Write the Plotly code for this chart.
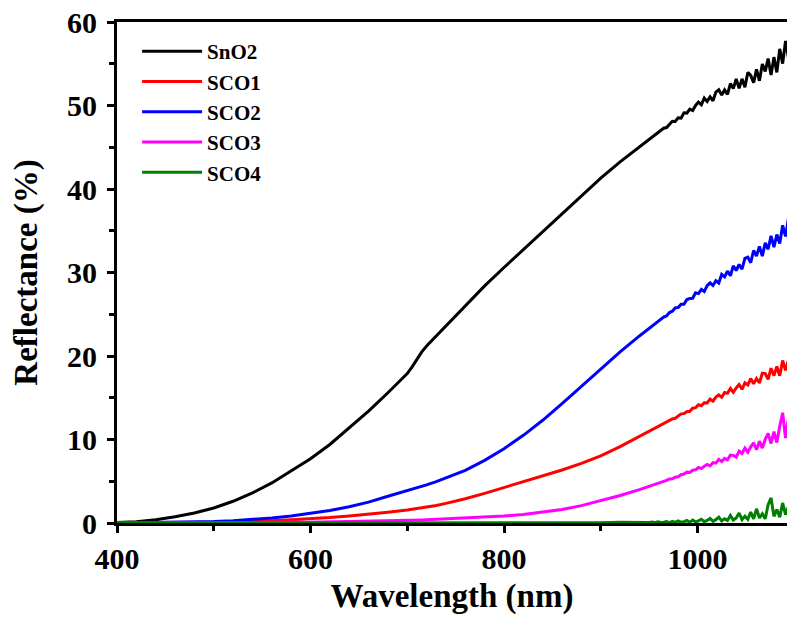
import plotly.graph_objects as go

wavelength = [400, 420, 440, 460, 480, 500, 520, 540, 560, 580, 600, 620, 640, 660, 680,
              700, 705, 710, 715, 720, 730, 740, 760, 780, 800, 820, 840, 860, 880, 900, 920, 940,
              950, 953, 956, 959, 962, 965, 968, 971, 974, 977, 980, 983, 986, 989, 992, 995,
              998, 1001, 1004, 1007, 1010, 1013, 1016, 1019, 1022, 1025, 1028, 1031, 1034,
              1037, 1040, 1043, 1046, 1049, 1052, 1055, 1058, 1061, 1064, 1067, 1070, 1073,
              1076, 1079, 1082, 1085, 1088, 1091, 1094]

sno2 = [0.05, 0.15, 0.4, 0.75, 1.2, 1.8, 2.6, 3.6, 4.8, 6.2, 7.7, 9.4, 11.4, 13.4, 15.6,
        17.9, 18.7, 19.6, 20.5, 21.2, 22.4, 23.7, 26.1, 28.4, 30.6, 32.75, 34.9, 37.05, 39.2, 41.3, 43.25, 45.0,
        45.87, 46.17, 46.39, 46.70, 46.91, 47.28, 47.36, 47.73, 48.12, 48.09, 48.53, 48.49, 49.12, 49.09, 49.57, 49.40,
        50.01, 50.41, 50.10, 50.89, 50.49, 51.04, 50.57, 51.61, 51.89, 51.26, 51.87, 51.32, 52.63,
        52.02, 53.17, 52.05, 53.19, 52.2, 53.96, 53.61, 52.72, 54.33, 52.95, 54.98, 54.08, 55.62,
        53.66, 55.79, 53.96, 56.78, 55.01, 57.73, 55.7]

sco1 = [0.0, 0.0, 0.02, 0.04, 0.06, 0.1, 0.14, 0.2, 0.28, 0.38, 0.5, 0.65, 0.85, 1.05, 1.3,
        1.55, 1.63, 1.71, 1.8, 1.9, 2.1, 2.35, 2.9, 3.55, 4.25, 4.9, 5.6, 6.35, 7.15, 8.05, 9.15, 10.35,
        10.97, 11.18, 11.35, 11.57, 11.69, 11.91, 12.13, 12.21, 12.47, 12.54, 12.85, 13.07, 13.1, 13.33, 13.37, 13.75,
        13.81, 14.17, 14.04, 14.41, 14.39, 14.85, 14.59, 15.08, 15.35, 15.05, 15.62, 15.54, 16.11,
        15.67, 16.17, 16.58, 16.01, 16.79, 16.53, 17.3, 16.67, 17.3, 16.77, 17.95, 17.89, 17.2,
        18.54, 17.65, 18.75, 17.63, 19.46, 18.27, 19.52]

sco2 = [0.0, 0.02, 0.05, 0.08, 0.12, 0.18, 0.28, 0.4, 0.6, 0.85, 1.15, 1.5, 1.95, 2.5, 3.2,
        3.85, 4.02, 4.2, 4.38, 4.57, 4.95, 5.4, 6.3, 7.5, 8.9, 10.5, 12.3, 14.3, 16.4, 18.5, 20.5, 22.4,
        23.31, 23.55, 23.88, 24.06, 24.38, 24.66, 24.79, 25.21, 25.36, 25.77, 25.81, 26.2, 26.2, 26.77, 26.88, 26.91,
        27.56, 27.47, 27.97, 27.72, 28.42, 28.76, 28.44, 29.01, 28.74, 29.77, 29.47, 30.16, 29.61,
        30.79, 30.24, 30.96, 30.41, 31.7, 31.84, 31.17, 32.63, 31.98, 33.13, 31.96, 33.55, 32.78,
        34.39, 33.03, 34.55, 33.48, 35.65, 34.32, 36.5]

sco3 = [0.0, 0.0, 0.0, 0.0, 0.01, 0.02, 0.03, 0.04, 0.06, 0.08, 0.1, 0.13, 0.16, 0.2, 0.25,
        0.3, 0.32, 0.34, 0.36, 0.38, 0.43, 0.48, 0.58, 0.7, 0.84, 1.02, 1.28, 1.62, 2.08, 2.65, 3.3, 4.0,
        4.38, 4.48, 4.6, 4.69, 4.87, 4.94, 5.1, 5.27, 5.3, 5.49, 5.53, 5.78, 5.86, 6.09, 6.06, 6.32,
        6.37, 6.65, 6.52, 6.81, 7.01, 6.83, 7.24, 7.17, 7.62, 7.37, 7.74, 7.56, 8.13,
        8.1, 7.89, 8.61, 8.33, 8.97, 8.48, 9.13, 9.6, 8.77, 9.8, 8.97, 10.01, 10.73,
        9.52, 10.94, 9.63, 11.59, 13.2, 10.16, 12.62]

sco4 = [0.0, 0.0, 0.0, 0.0, 0.0, 0.0, 0.0, 0.0, 0.0, 0.0, 0.0, 0.0, 0.0, 0.0, 0.0,
        0.0, 0.02, 0.0, 0.03, 0.0, 0.03, 0.0, 0.04, 0.0, 0.05, 0.0, 0.06, 0.02, 0.08, 0.03, 0.1, 0.05,
        0.05, 0.12, 0.03, 0.15, 0.06, 0.1, 0.18, 0.05, 0.2, 0.08, 0.25, 0.1, 0.15, 0.3, 0.08, 0.35,
        0.12, 0.25, 0.45, 0.15, 0.3, 0.55, 0.2, 0.4, 0.7, 0.25, 0.5, 0.3, 0.9,
        0.35, 0.6, 1.2, 0.4, 0.8, 0.45, 1.3, 0.5, 1.7, 0.6, 1.1, 0.5, 2.2,
        3.0, 0.8, 1.6, 0.7, 2.4, 1.0, 2.0]

series = [("SnO2", sno2, "#000000"),
          ("SCO1", sco1, "#ff0000"),
          ("SCO2", sco2, "#0000ff"),
          ("SCO3", sco3, "#ff00ff"),
          ("SCO4", sco4, "#008000")]

FONT = "Liberation Serif"

fig = go.Figure()
for name, vals, col in series:
    fig.add_trace(go.Scatter(x=wavelength, y=vals, mode="lines", name=name,
                             legendgroup=name,
                             line=dict(color=col, width=3)))

fig.update_layout(
    width=787, height=617,
    margin=dict(l=117, r=0, t=22, b=94),
    paper_bgcolor="white", plot_bgcolor="white",
    font=dict(family=FONT, color="black"),
    showlegend=True,
    legend=dict(x=0.03, y=0.982, xanchor="left", yanchor="top",
                bgcolor="rgba(0,0,0,0)", tracegroupgap=0, itemwidth=60,
                font=dict(family=FONT, size=21, color="black", weight="bold")),
)

fig.update_xaxes(
    range=[400, 1092.5], showgrid=False, zeroline=False,
    showline=True, linewidth=3, linecolor="black", mirror=True,
    ticks="outside", ticklen=7, tickwidth=3, tickcolor="black",
    tickvals=[400, 600, 800, 1000],
    tickfont=dict(family=FONT, size=30, color="black", weight="bold"),
    minor=dict(ticks="outside", ticklen=5, tickwidth=3, tickcolor="black",
               tickvals=[500, 700, 900]),
    title=dict(text="Wavelength (nm)", standoff=10,
               font=dict(family=FONT, size=33, color="black", weight="bold")),
)

fig.update_yaxes(
    range=[0, 60], showgrid=False, zeroline=False,
    showline=True, linewidth=3, linecolor="black", mirror=False,
    ticks="outside", ticklen=7, tickwidth=3, tickcolor="black",
    tickvals=[0, 10, 20, 30, 40, 50, 60], ticklabelstandoff=4,
    tickfont=dict(family=FONT, size=30, color="black", weight="bold"),
    minor=dict(ticks="outside", ticklen=5, tickwidth=3, tickcolor="black",
               tickvals=[5, 15, 25, 35, 45, 55]),
    title=dict(text="Reflectance (%)", standoff=20,
               font=dict(family=FONT, size=33, color="black", weight="bold")),
)

fig.write_html("out.html", config={"displayModeBar": False},
               post_script="document.body.style.margin='0';document.body.style.overflow='hidden';")
